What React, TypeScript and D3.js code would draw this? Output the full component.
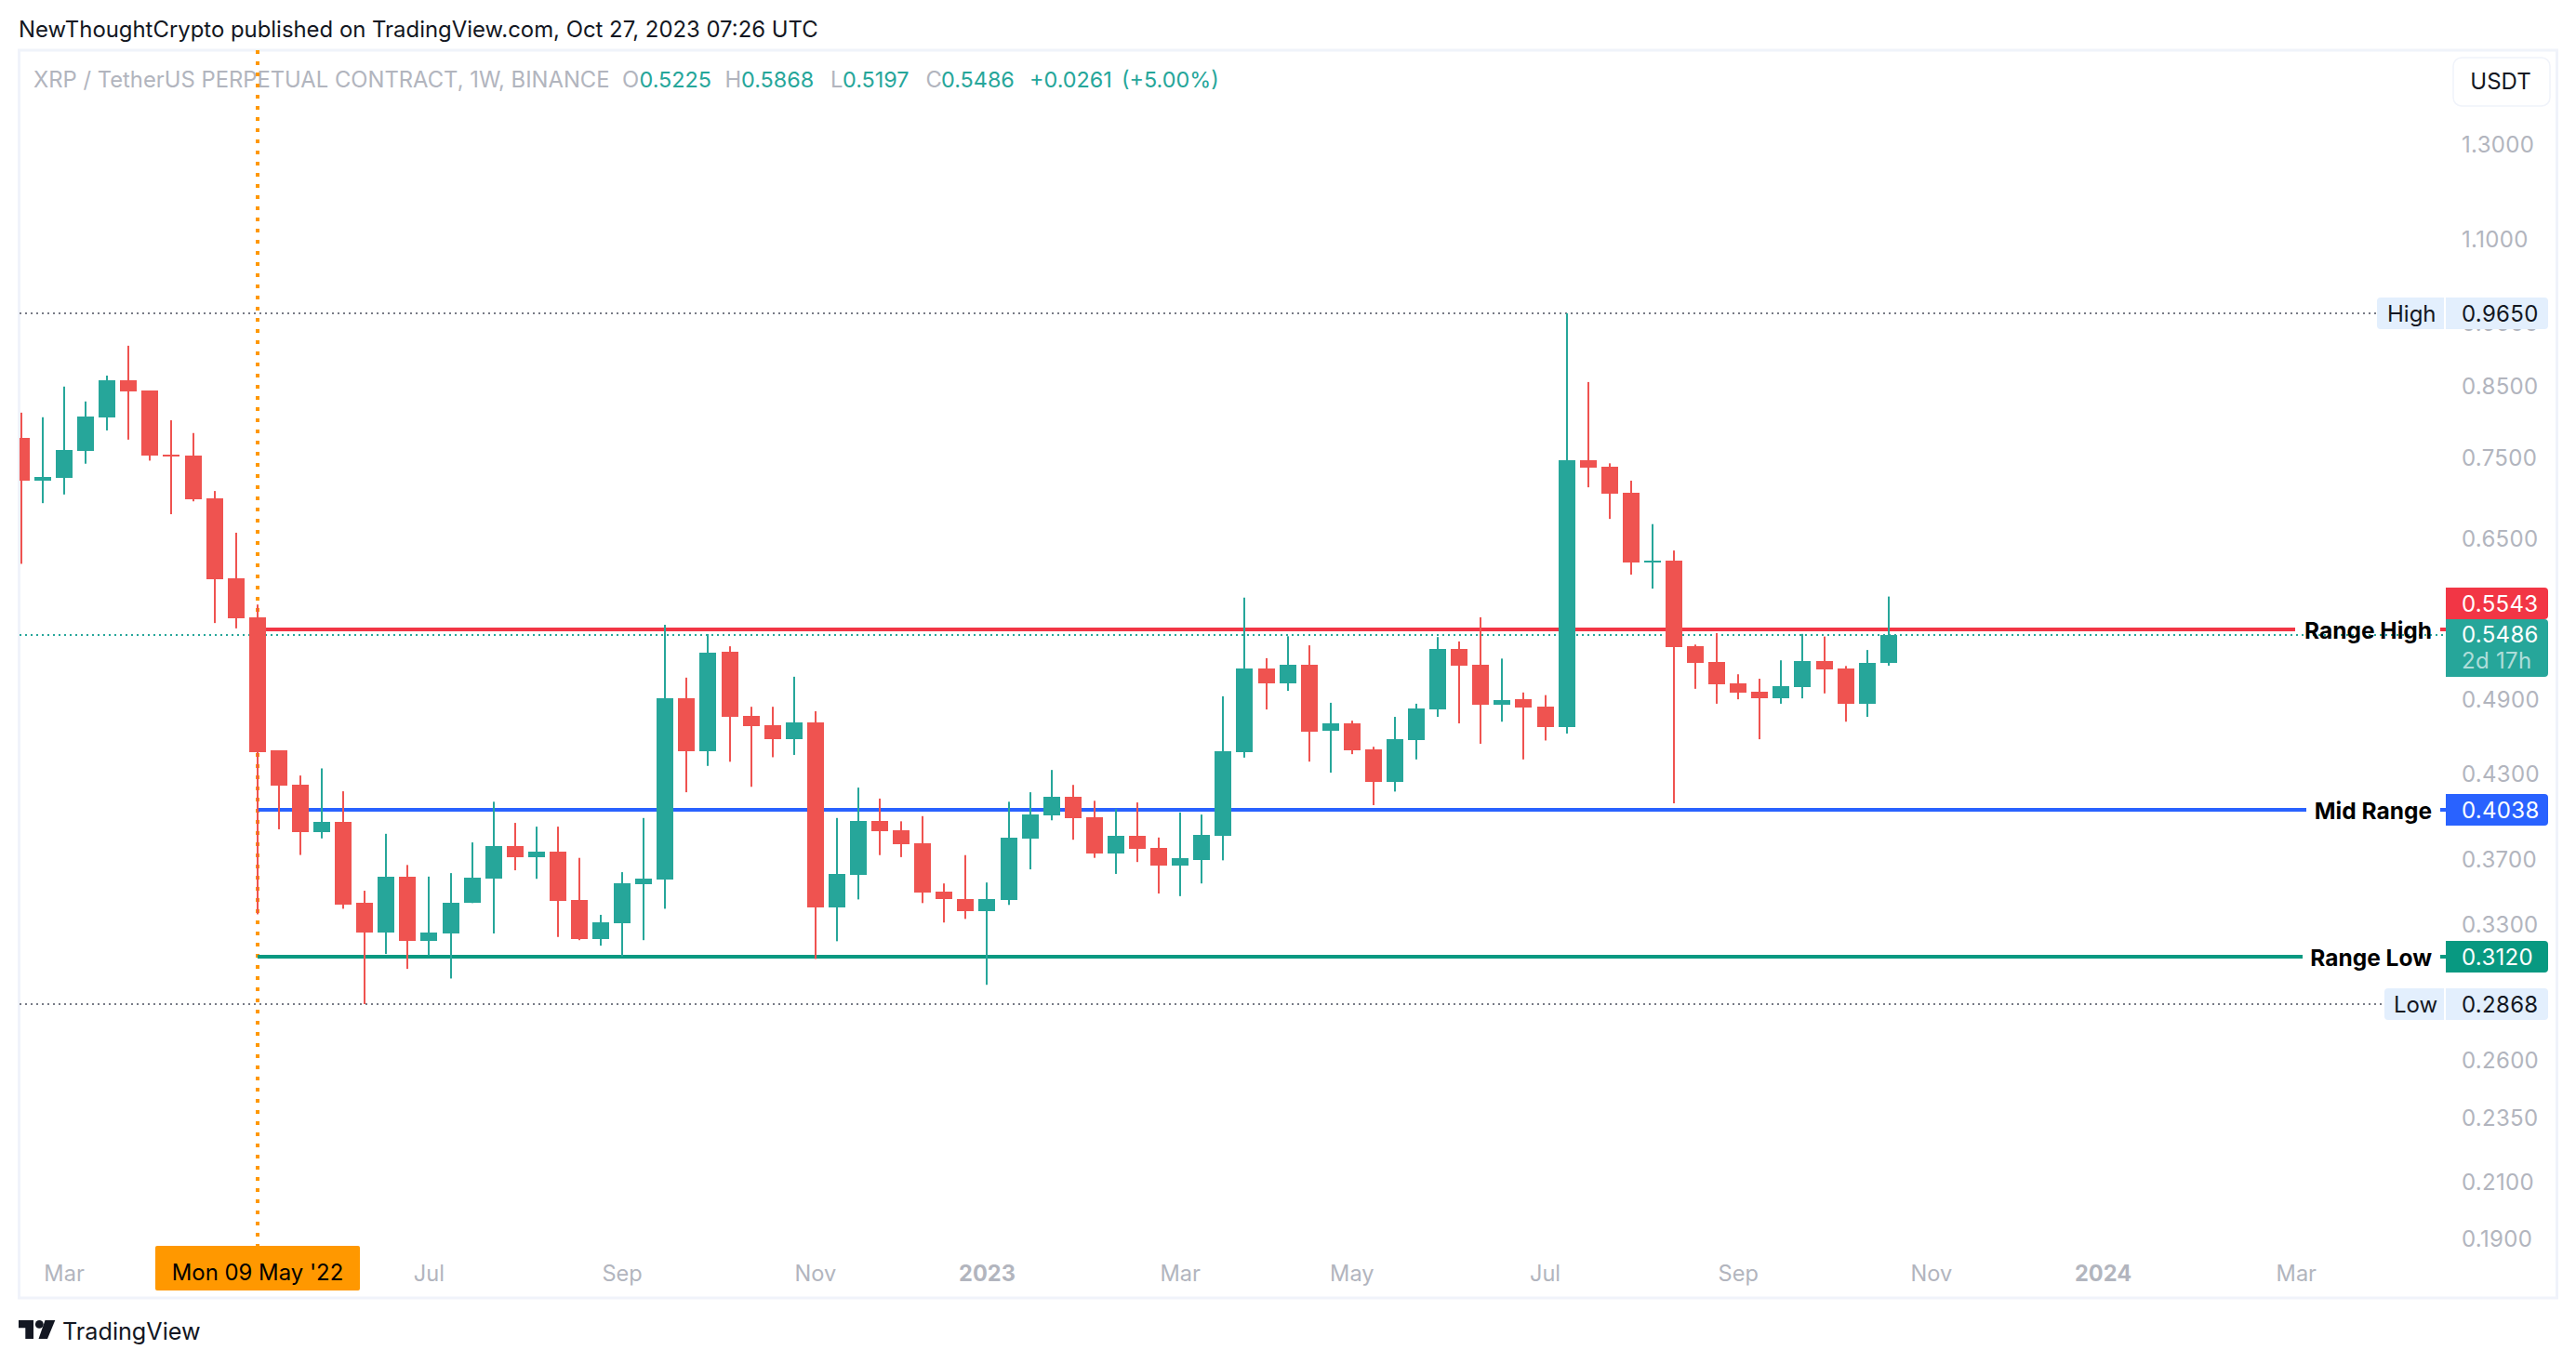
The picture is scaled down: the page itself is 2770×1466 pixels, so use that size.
import React from "react";
import * as d3 from "d3";

const FONT = "Inter, 'Noto Sans', sans-serif";

// Weekly candles, week index relative to Mon 09 May '22
const firstWeek = -11;
const opens = [
  0.7754, 0.7196, 0.7229, 0.7576, 0.804, 0.8578, 0.8427, 0.753, 0.7518, 0.6973, 0.606,
  0.5658, 0.4478, 0.4215, 0.388, 0.3948, 0.3425, 0.3253, 0.3588, 0.3203, 0.3247, 0.3425, 0.3574, 0.3785, 0.3713, 0.3749, 0.3442, 0.3214, 0.3305, 0.3539,
  0.3568, 0.4909, 0.4471, 0.5325, 0.4759, 0.468, 0.4569, 0.4702, 0.3398, 0.3599, 0.3954, 0.3893, 0.3803, 0.3494, 0.3452, 0.3376, 0.3442, 0.3837, 0.3996, 0.4128, 0.3983, 0.3737, 0.3855, 0.3773, 0.3658, 0.3692, 0.3855, 0.4463, 0.517, 0.5036,
  0.5206, 0.4634, 0.4696, 0.4487, 0.4238, 0.456, 0.4813, 0.5351, 0.5206, 0.4853, 0.4899, 0.4834, 0.4667, 0.7457, 0.7371, 0.7043, 0.6231, 0.625, 0.5377, 0.5231, 0.5037, 0.4966, 0.4907, 0.5005, 0.5238, 0.5171, 0.4861, 0.5225,
];
const highs = [
  0.8105, 0.804, 0.8485, 0.8266, 0.865, 0.9116, 0.8427, 0.7997, 0.782, 0.7063, 0.6564,
  0.5786, 0.4478, 0.4285, 0.4339, 0.4168, 0.35, 0.3868, 0.3662, 0.3588, 0.361, 0.381, 0.4092, 0.3943, 0.3917, 0.3917, 0.3708, 0.3355, 0.3616, 0.3977,
  0.5584, 0.5089, 0.5494, 0.5377, 0.4835, 0.4835, 0.5097, 0.4797, 0.3977, 0.4195, 0.4115, 0.3954, 0.399, 0.3545, 0.3726, 0.3551, 0.4092, 0.4161, 0.4327, 0.4215, 0.4099, 0.404, 0.4087, 0.3843, 0.4016, 0.4001, 0.4925, 0.5857, 0.5266, 0.5473,
  0.5386, 0.4869, 0.4718, 0.4507, 0.475, 0.4861, 0.5465, 0.5423, 0.5658, 0.5262, 0.4958, 0.4935, 0.965, 0.8553, 0.7415, 0.7192, 0.6664, 0.6362, 0.5393, 0.5503, 0.5119, 0.5079, 0.5246, 0.5495, 0.547, 0.5194, 0.5342, 0.5868,
];
const lows = [
  0.6215, 0.6914, 0.702, 0.741, 0.7856, 0.773, 0.745, 0.6781, 0.6936, 0.5601, 0.5549,
  0.3358, 0.3899, 0.3727, 0.3837, 0.3391, 0.2868, 0.3132, 0.3051, 0.3125, 0.3, 0.3425, 0.3247, 0.3628, 0.3574, 0.3227, 0.3209, 0.3178, 0.3119, 0.3209,
  0.3391, 0.4161, 0.4358, 0.439, 0.4201, 0.4425, 0.4443, 0.3105, 0.3203, 0.3447, 0.3726, 0.3713, 0.3425, 0.331, 0.3331, 0.2967, 0.3414, 0.3634, 0.3961, 0.3828, 0.3708, 0.3605, 0.3681, 0.3483, 0.3467, 0.3545, 0.3692, 0.4422, 0.4812, 0.4972,
  0.4391, 0.4307, 0.4449, 0.4068, 0.4166, 0.4408, 0.475, 0.4696, 0.4531, 0.471, 0.4408, 0.4557, 0.4613, 0.7109, 0.6725, 0.6098, 0.595, 0.4081, 0.499, 0.4861, 0.4899, 0.4567, 0.4861, 0.4907, 0.495, 0.471, 0.475, 0.5197,
];
const closes = [
  0.7196, 0.724, 0.7589, 0.8052, 0.8578, 0.8414, 0.7518, 0.7506, 0.6961, 0.605, 0.5649,
  0.4463, 0.4208, 0.388, 0.3948, 0.3416, 0.3253, 0.3588, 0.3203, 0.3253, 0.3425, 0.3582, 0.3785, 0.3713, 0.3749, 0.3436, 0.3214, 0.331, 0.3545, 0.3574,
  0.4909, 0.4471, 0.5317, 0.4751, 0.4672, 0.4569, 0.4702, 0.3398, 0.3605, 0.3954, 0.3887, 0.3797, 0.3488, 0.3447, 0.3376, 0.3447, 0.3843, 0.4001, 0.4128, 0.3977, 0.3737, 0.3855, 0.3767, 0.3658, 0.3708, 0.3861, 0.4471, 0.517, 0.5036, 0.5204,
  0.4627, 0.4696, 0.448, 0.4238, 0.4567, 0.482, 0.5351, 0.5198, 0.4853, 0.4891, 0.4827, 0.4667, 0.7457, 0.7359, 0.7032, 0.6231, 0.625, 0.5369, 0.5223, 0.5029, 0.4958, 0.4907, 0.5013, 0.5238, 0.5163, 0.4861, 0.5223, 0.5486,
];

const priceTicks = [1.3, 1.1, 0.95, 0.85, 0.75, 0.65, 0.49, 0.43, 0.37, 0.33, 0.26, 0.235, 0.21, 0.19];
const timeTickWeeks = [-9, 8, 17, 26, 34, 43, 51, 60, 69, 78, 86, 95];
const timeTickLabels = ["Mar", "Jul", "Sep", "Nov", "2023", "Mar", "May", "Jul", "Sep", "Nov", "2024", "Mar"];

const rangeNames = ["Range High", "Mid Range", "Range Low"];
const rangeValues = [0.5543, 0.4038, 0.312];
const rangeColors = ["#F23645", "#2962FF", "#089981"];
const rangeGapStart = [2468, 2480, 2476];

const highValue = 0.965;
const lowValue = 0.2868;
const lastClose = 0.5486;
const cursorWeek = 0;

const legendGrey = [["O", 669], ["H", 779.5], ["L", 893], ["C", 995.5]] as const;
const legendValues = [["0.5225", 687.5], ["0.5868", 797], ["0.5197", 906], ["0.5486", 1012], ["+0.0261", 1107], ["(+5.00%)", 1206]] as const;

const GREEN = "#26A69A";
const RED = "#EF5350";
const GREY = "#B2B5BE";
const INK = "#131722";
const FRAME = "#F0F3FA";
const PALE = "#E3EFFD";

const W = 2770;
const H = 1466;

const x = d3.scaleLinear().domain([0, 76]).range([276.8, 2030.8]);
const y = d3.scaleLog().domain([highValue, lowValue]).range([337, 1080]);

function box(x0: number, y0: number, x1: number, y1: number, rl: number, rr: number) {
  const p = d3.path();
  p.moveTo(x0 + rl, y0);
  p.lineTo(x1 - rr, y0);
  if (rr) p.arcTo(x1, y0, x1, y0 + rr, rr);
  p.lineTo(x1, y1 - rr);
  if (rr) p.arcTo(x1, y1, x1 - rr, y1, rr);
  p.lineTo(x0 + rl, y1);
  if (rl) p.arcTo(x0, y1, x0, y1 - rl, rl);
  p.lineTo(x0, y0 + rl);
  if (rl) p.arcTo(x0, y0, x0 + rl, y0, rl);
  p.closePath();
  return p.toString();
}

const AX_X0 = 2630;
const AX_X1 = 2740;
const AX_TX = 2647;

function Candles() {
  return (
    <g clipPath="url(#pane)">
      {closes.map((c, k) => {
        const week = firstWeek + k;
        const o = opens[k];
        const col = c >= o ? GREEN : RED;
        const cx = Math.round(x(week));
        const top = Math.round(y(Math.max(o, c)));
        const bot = Math.round(y(Math.min(o, c)));
        return (
          <g key={week} fill={col}>
            <rect x={cx - 1} width={2} y={y(highs[k])} height={y(lows[k]) - y(highs[k])} />
            <rect x={cx - 9} width={18} y={top} height={Math.max(bot - top, 2)} />
          </g>
        );
      })}
    </g>
  );
}

export default function App() {
  const cursorX = Math.round(x(cursorWeek));
  const lastY = Math.ceil(y(lastClose));
  return (
    <svg
      width={W}
      height={H}
      viewBox={`0 0 ${W} ${H}`}
      style={{ position: "absolute", left: 0, top: 0, display: "block", background: "#fff" }}
      fontFamily={FONT}
    >
      <defs>
        <clipPath id="pane">
          <rect x={21} y={55} width={2600} height={1340} />
        </clipPath>
      </defs>
      <rect width={W} height={H} fill="#fff" />

      <text x={20} y={31.5} fontSize={23.9} fill={INK} dominantBaseline="central">
        NewThoughtCrypto published on TradingView.com, Oct 27, 2023 07:26 UTC
      </text>

      <rect x={20.5} y={54} width={2729} height={1342} fill="none" stroke={FRAME} strokeWidth={3} />

      <text x={36} y={85.5} fontSize={23.8} fill={GREY} dominantBaseline="central">
        XRP / TetherUS PERPETUAL CONTRACT, 1W, BINANCE
      </text>
      {legendGrey.map(([t, px]) => (
        <text key={t} x={px} y={85.5} fontSize={23.8} fill={GREY} dominantBaseline="central">{t}</text>
      ))}
      {legendValues.map(([t, px]) => (
        <text key={t} x={px} y={85.5} fontSize={23.4} fill={GREEN} dominantBaseline="central">{t}</text>
      ))}

      {/* price axis ticks */}
      {priceTicks.map((p) => (
        <text key={p} x={AX_TX} y={y(p) + 0.7} fontSize={24} fill={GREY} letterSpacing={0.3} dominantBaseline="central">
          {p.toFixed(4)}
        </text>
      ))}

      {/* time axis ticks */}
      {timeTickWeeks.map((w, k) => {
        const bold = /^\d+$/.test(timeTickLabels[k]);
        return (
          <text key={k} x={x(w)} y={1369} fontSize={23.6} fill={GREY} fontWeight={bold ? 700 : 400}
            textAnchor="middle" dominantBaseline="central">
            {timeTickLabels[k]}
          </text>
        );
      })}

      {/* orange cursor line */}
      <line x1={cursorX} x2={cursorX} y1={54} y2={1340} stroke="#FF9800" strokeWidth={4} strokeDasharray="4 8" />

      {/* High / Low guides */}
      <line x1={21} x2={2556} y1={y(highValue)} y2={y(highValue)} stroke="#787B86" strokeWidth={2} strokeDasharray="2 4" />
      <line x1={21} x2={2564} y1={y(lowValue)} y2={y(lowValue)} stroke="#787B86" strokeWidth={2} strokeDasharray="2 4" />

      {/* Range lines */}
      {rangeValues.map((v, k) => (
        <g key={rangeNames[k]} stroke={rangeColors[k]} strokeWidth={4}>
          <line x1={cursorX} x2={rangeGapStart[k]} y1={Math.ceil(y(v))} y2={Math.ceil(y(v))} />
          <line x1={2624} x2={AX_X0} y1={Math.ceil(y(v))} y2={Math.ceil(y(v))} />
        </g>
      ))}

      {/* last price dotted */}
      <line x1={21} x2={AX_X0} y1={lastY} y2={lastY} stroke={GREEN} strokeWidth={2} strokeDasharray="2 4" />

      <Candles />

      {rangeValues.map((v, k) => (
        <text key={rangeNames[k]} x={2615} y={y(v) + 1.5} fontSize={24.5} fontWeight={700} fill="#000"
          textAnchor="end" dominantBaseline="central">
          {rangeNames[k]}
        </text>
      ))}

      {/* High label */}
      <path d={box(2556, 320, 2628, 354, 4, 0)} fill={PALE} />
      <path d={box(AX_X0, 320, AX_X1, 354, 0, 4)} fill={PALE} />
      <text x={2567} y={y(highValue)} fontSize={24} fill={INK} dominantBaseline="central">High</text>
      <text x={AX_TX} y={y(highValue)} fontSize={24} fill={INK} letterSpacing={0.3} dominantBaseline="central">{highValue.toFixed(4)}</text>

      {/* Low label */}
      <path d={box(2564, 1063, 2628, 1097, 4, 0)} fill={PALE} />
      <path d={box(AX_X0, 1063, AX_X1, 1097, 0, 4)} fill={PALE} />
      <text x={2574} y={y(lowValue)} fontSize={24} fill={INK} dominantBaseline="central">Low</text>
      <text x={AX_TX} y={y(lowValue)} fontSize={24} fill={INK} letterSpacing={0.3} dominantBaseline="central">{lowValue.toFixed(4)}</text>

      {/* Range value labels */}
      <path d={box(AX_X0, 632, AX_X1, 666, 0, 4)} fill={rangeColors[0]} />
      <text x={AX_TX} y={649} fontSize={24} fill="#fff" letterSpacing={0.3} dominantBaseline="central">{rangeValues[0].toFixed(4)}</text>
      <path d={box(AX_X0, 854, AX_X1, 888, 0, 4)} fill={rangeColors[1]} />
      <text x={AX_TX} y={871} fontSize={24} fill="#fff" letterSpacing={0.3} dominantBaseline="central">{rangeValues[1].toFixed(4)}</text>
      <path d={box(AX_X0, 1012, AX_X1, 1046, 0, 4)} fill={rangeColors[2]} />
      <text x={AX_TX} y={1029} fontSize={24} fill="#fff" letterSpacing={0.3} dominantBaseline="central">{rangeValues[2].toFixed(4)}</text>

      {/* Last price label */}
      <path d={box(AX_X0, 666, AX_X1, 728, 0, 4)} fill={GREEN} />
      <text x={AX_TX} y={682.5} fontSize={24} fill="#fff" letterSpacing={0.3} dominantBaseline="central">{lastClose.toFixed(4)}</text>
      <text x={AX_TX} y={710.5} fontSize={24} fill="#fff" fillOpacity={0.65} letterSpacing={0.3} dominantBaseline="central">2d 17h</text>

      {/* Currency button */}
      <rect x={2638} y={62} width={104} height={52} rx={9} fill="#fff" stroke={FRAME} strokeWidth={1.5} />
      <text x={2689} y={87.5} fontSize={24} fill={INK} textAnchor="middle" dominantBaseline="central">USDT</text>

      {/* Cursor date label */}
      <path d={box(167, 1340, 387, 1388, 2, 2)} fill="#FF9800" />
      <text x={cursorX} y={1368.5} fontSize={23.9} fill="#000" textAnchor="middle" dominantBaseline="central">
        Mon 09 May '22
      </text>

      {/* Logo */}
      <g fill={INK}>
        <path d="M20 1420H36V1440H27.3V1428.3H20Z" />
        <circle cx={42.3} cy={1424.4} r={4.4} />
        <path d="M48.5 1420H59.3L51 1440H41.5Z" />
      </g>
      <text x={67} y={1431.5} fontSize={25.2} fill={INK} dominantBaseline="central">TradingView</text>
    </svg>
  );
}
